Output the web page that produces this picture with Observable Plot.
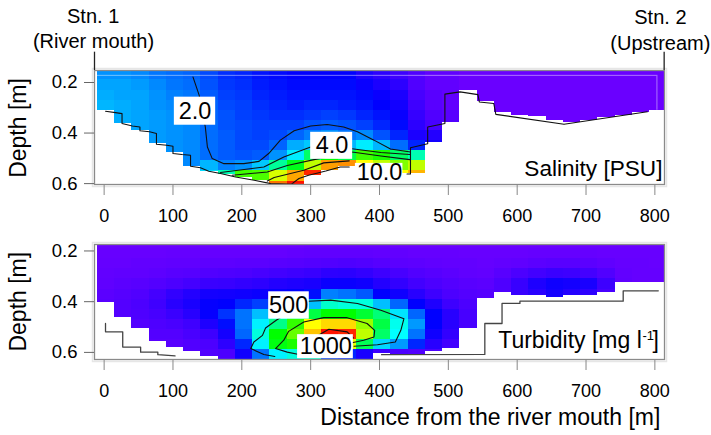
<!DOCTYPE html>
<html><head><meta charset="utf-8">
<script src="https://cdn.jsdelivr.net/npm/d3@7"></script>
<script src="https://cdn.jsdelivr.net/npm/@observablehq/plot@0.6"></script>
<style>
html,body{margin:0;padding:0;background:#fff;overflow:hidden}
#chart{position:relative;width:711px;height:435px}
#chart svg{position:absolute;left:0;overflow:visible;background:transparent}
#chart g[aria-label="cells"]{filter:blur(1px)}
</style></head><body><div id="chart"></div>
<script>
const FONT = "'Liberation Sans', Arial, sans-serif";
const colStart = -10, colWidth = 25.08, rowStart = 0.15, rowHeight = 0.04;
const distanceTicks = [0,100,200,300,400,500,600,700,800];
const depthTicks = [0.2,0.4,0.6];

// Salinity [PSU], one array per 25 m column, surface to bed
const salinity = [
[2.8,3.0,3.1,3.2],
[2.8,3.0,3.0,3.1,3.1,3.1],
[2.7,2.9,3.0,3.0,3.0,3.0,3.0],
[2.5,2.7,2.8,2.8,2.9,2.9,2.9,2.9],
[2.4,2.5,2.6,2.7,2.8,2.8,2.8,2.8,2.8],
[2.3,2.4,2.5,2.6,2.6,2.7,2.7,2.7,2.7,2.7],
[2.0,2.1,2.2,2.3,2.3,2.4,2.4,2.4,2.4,3.2,3.6],
[1.7,1.8,1.9,2.0,2.1,2.1,2.2,2.2,2.2,2.6,4.3],
[1.6,1.7,1.8,1.9,1.9,2.0,2.0,2.0,2.1,2.8,5.5],
[1.4,1.5,1.6,1.7,1.8,1.9,1.9,2.0,2.2,3.4,5.6],
[1.3,1.4,1.5,1.6,1.7,1.9,2.0,2.3,2.8,4.4,6.7,8.8],
[1.2,1.3,1.4,1.5,1.7,1.9,2.3,3.1,3.8,4.9,8.2,9.8],
[1.2,1.3,1.4,1.6,1.8,2.1,2.6,3.4,4.6,6.5,9.6],
[1.2,1.3,1.4,1.6,1.9,2.2,2.8,3.6,5.0,8.3],
[1.2,1.3,1.4,1.5,1.8,2.1,2.5,3.2,4.7,8.5],
[0.9,1.1,1.3,1.4,1.6,1.9,2.7,3.8,5.5,7.0],
[0.7,0.9,1.1,1.2,1.4,1.6,2.1,3.2,5.2,6.5,7.0],
[0.5,0.7,0.9,1.0,1.1,1.3,1.6,2.4,4.6,6.0,7.0],
[0.3,0.3,0.4,0.5,0.6,0.7,0.9,1.6,4.3,6.5,8.0],
[0.1,0.1,0.2,0.2,0.3,0.4,0.8,1.0],
[0.1,0.1,0.1,0.1,0.2,0.3],
[0,0,0],[0,0,0,0],[0,0,0,0,0],[0,0,0,0,0],[0,0,0,0,0],[0,0,0,0,0],[0,0,0,0,0,0],[0,0,0,0,0],[0,0,0,0,0],[0,0,0,0,0],[0,0,0,0,0],[0,0,0,0]
];
const salinityBed = [.310,.362,.391,.442,.475,.531,.551,.563,.576,.587,.603,.603,.567,.547,.531,.535,.545,.56,.56,.438,.358,.233,.277,.319,.329,.336,.349,.360,.349,.339,.329,.319,.310];

// Turbidity [mg/l]
const turbidity = [
[40,45,50,55,60,70,75],
[40,45,50,60,70,80,85,85],
[40,45,55,60,75,90,100,95,85],
[40,45,55,65,85,115,125,110,95,85,75],
[40,50,60,75,100,150,170,135,105,85,75],
[40,50,60,80,115,180,200,170,125,105,90,85],
[40,50,65,90,135,210,240,240,190,130,100,90],
[40,50,65,95,140,215,250,290,260,210,160,100],
[40,50,70,100,150,220,280,340,340,330,280,220],
[40,50,70,110,160,230,300,400,440,470,440,340],
[40,50,75,120,180,240,320,450,520,600,590,440],
[40,55,80,130,190,250,370,530,640,680,620,470],
[45,60,85,140,200,260,400,560,800,880,790,480],
[45,60,90,160,230,350,480,600,850,1080,800,300],
[45,60,95,165,230,340,470,600,850,1060,780,280],
[45,60,90,150,220,320,470,570,720,750,550,200],
[45,55,80,130,180,250,400,530,560,540,420,130],
[40,55,70,110,150,220,330,430,460,450,370,100],
[40,50,65,90,120,170,250,330,370,340,280,90],
[40,50,60,80,100,130,190,250,250,220,170,100],
[40,50,55,70,85,100,130,170,170,150,120],
[40,45,55,60,75,85,100,110,110],
[40,45,50,55,70,80],
[40,45,55,75,95,95],
[40,45,60,100,140,140],
[40,50,70,120,190,170],
[40,50,75,135,220,210],
[40,50,75,130,210,180],
[40,50,70,115,200,160],
[40,45,60,90,130,110],
[40,45,50,55,60],
[40,45,50,50,50],
[40,45,45,50,50]
];
const turbidityBed = [.403,.464,.505,.556,.579,.596,.618,.628,.628,.628,.628,.628,.628,.628,.628,.628,.605,.608,.608,.595,.583,.504,.387,.364,.374,.374,.385,.374,.374,.365,.325,.325,.325];

const salinityColorDomain = [0,1.2,4,5,7,8.5,10];
const turbidityColorDomain = [40,250,450,600,800,950,1100];
const rainbow = ["#6a00ff","#0000ff","#00ffff","#00ff00","#ffff00","#ff9000","#ff0000"];

// Bed lines and isolines: [distance m, depth m]
const salinityBedLine1 = [[2,.314],[16.5,.319],[26,.323],[26,.362],[41,.372],[52,.376],[52,.391],[66,.395],[76,.402],[76,.444],[91,.448],[100,.452],[100,.481],[113,.485],[125.5,.488],[125.5,.531],[140,.537],[152,.551],[169,.560],[191,.574],[218,.587],[242,.600],[276,.603]];
const salinityBedLine2 = [[440,.562],[445,.562],[445,.458],[470,.442],[470,.376],[495,.362],[495,.246],[517,.237],[543,.248],[545,.277],[566,.283],[569,.326],[668,.365],[789,.316]];
const iso20 = [[129,.178],[138,.250],[147,.376],[150,.455],[157,.501],[174,.521],[203,.521],[225,.512],[239,.481],[256,.428],[276,.391],[300,.372],[324,.366],[348,.376],[368,.395],[392,.428],[416,.463],[445,.475]];
const iso40 = [[169,.556],[232,.534],[261,.495],[300,.455],[360,.462],[402,.477],[444,.485]];
const iso60 = [[186,.567],[237,.554],[266,.528],[305,.505],[360,.475],[402,.491],[444,.505]];
const iso80 = [[237,.590],[247,.576],[290,.547],[319,.518],[356,.510]];
const iso100 = [[273,.600],[283,.580],[297,.567],[322,.550],[343,.534],[356,.534]];

const turbidityBedLine1 = [[2,.486],[2,.519],[27,.519],[27,.579],[53,.579],[53,.599],[78,.599],[78,.609],[103,.614]];
const turbidityBedLine2 = [[403,.609],[553,.608],[553,.486],[578,.486],[578,.407],[604,.407],[604,.398],[754,.398],[754,.357],[805,.357]];
const iso500 = [[248,.616],[232,.608],[213,.585],[217.5,.559],[230,.533],[234.5,.504],[251,.471],[297,.398],[329,.394],[368,.407],[402,.434],[435.5,.467],[431,.513],[423,.559],[397,.570],[363,.576]];
const iso750 = [[283,.608],[266,.599],[249,.585],[261,.552],[268,.517],[290,.480],[319,.463],[353,.463],[382,.486],[393,.513],[392,.539],[377,.552],[360,.562]];
const iso1000 = [[310.5,.533],[326.5,.509],[353,.519],[362,.543]];

const salinityLabels = [
  {t:"2.0",x:132,y:.314,x1:102,x2:162,y1:.258,y2:.369},
  {t:"4.0",x:331,y:.448,x1:300,x2:361,y1:.397,y2:.504},
  {t:"10.0",x:400,y:.556,x1:365,x2:434,y1:.52,y2:.603}
];
const turbidityLabels = [
  {t:"500",x:268,y:.414,x1:239,x2:298,y1:.361,y2:.469},
  {t:"1000",x:322,y:.576,x1:281,x2:362,y1:.530,y2:.625}
];

function cells(columns, bed){
  return columns.flatMap((col,k)=>col.map((v,r)=>({
    x1:colStart+k*colWidth, x2:colStart+(k+1)*colWidth,
    y1:rowStart+r*rowHeight, y2:Math.min(rowStart+(r+1)*rowHeight, bed[k]), v
  }))).filter(d=>d.y2>d.y1);
}
const lineOf = (pts,stroke="#111",w=1.1)=>Plot.line(pts,{x:d=>d[0],y:d=>d[1],stroke,strokeWidth:w,curve:"linear"});
const labelMarks = L=>[
  Plot.rect(L,{x1:"x1",x2:"x2",y1:"y1",y2:"y2",fill:"white"}),
  Plot.text(L,{x:"x",y:"y",text:"t",fontSize:23.5,fill:"black"})
];
function axes(){
  return [
    Plot.axisX({ticks:distanceTicks,tickSize:11,tickPadding:14,fontSize:18,label:null,tickFormat:"d",stroke:"#888",fill:"black"}),
    Plot.axisY({ticks:depthTicks,tickSize:10,tickPadding:7,fontSize:18.5,label:null,tickFormat:".1f",stroke:"#666",fill:"black"})
  ];
}
const frames = ()=>[
  Plot.frame({inset:-2,stroke:"#e6e6e6",strokeWidth:1.5}),
  Plot.frame({stroke:"#8a8a8a",strokeWidth:1.3})
];

const common = {width:711,marginLeft:94,marginRight:47,style:{fontFamily:FONT,background:"transparent"},
  x:{domain:[-14,814]}};

const topPlot = Plot.plot({...common,height:230,marginTop:70,marginBottom:46,
  y:{domain:[.6035,.1525]},
  color:{type:"linear",domain:salinityColorDomain,range:rainbow,interpolate:"rgb"},
  marks:[
    Plot.rect(cells(salinity,salinityBed),{x1:"x1",x2:"x2",y1:"y1",y2:"y2",fill:"v",shapeRendering:"crispEdges",clip:true,ariaLabel:"cells"}),
    Plot.ruleY([.1717],{x1:-10,x2:803,stroke:"white",strokeOpacity:.45,strokeWidth:1}),
    Plot.ruleX([803],{y1:.1717,y2:.31,stroke:"white",strokeOpacity:.45,strokeWidth:1}),
    lineOf(salinityBedLine1), lineOf(salinityBedLine2),
    lineOf(iso20),lineOf(iso40),lineOf(iso60),lineOf(iso80),lineOf(iso100),
    ...labelMarks(salinityLabels),
    Plot.text(["Salinity [PSU]"],{x:[811],y:[.54],textAnchor:"end",fontSize:22.6,fill:"black"}),
    ...frames(),
    ...axes(),
    Plot.ruleX([-14],{y1:.08,y2:.1525,stroke:"#222",strokeWidth:1.3}),
    Plot.ruleX([813.5],{y1:.08,y2:.1525,stroke:"#222",strokeWidth:1.3}),
    Plot.text(["Stn. 1"],{x:[-16],y:[-.0626],fontSize:20,fill:"black"}),
    Plot.text(["(River mouth)"],{x:[-15.5],y:[.0364],fontSize:20,fill:"black"}),
    Plot.text(["Stn. 2"],{x:[808],y:[-.0586],fontSize:20,fill:"black"}),
    Plot.text(["(Upstream)"],{x:[808],y:[.0444],fontSize:20,fill:"black"}),
    Plot.text(["Depth [m]"],{x:[-124],y:[.38],rotate:-90,fontSize:23,fill:"black"})
  ]});
topPlot.style.top="0px";

const bottomPlot = Plot.plot({...common,height:205,marginTop:14,marginBottom:76,
  y:{domain:[.628,.1745]},
  color:{type:"linear",domain:turbidityColorDomain,range:rainbow,interpolate:"rgb"},
  marks:[
    Plot.rect(cells(turbidity,turbidityBed),{x1:"x1",x2:"x2",y1:"y1",y2:"y2",fill:"v",shapeRendering:"crispEdges",clip:true,ariaLabel:"cells"}),
    lineOf(turbidityBedLine1,"#444",1.3), lineOf(turbidityBedLine2,"#444",1.3),
    lineOf(iso500),lineOf(iso750),lineOf(iso1000),
    ...labelMarks(turbidityLabels),
    Plot.text(["Turbidity [mg l"],{x:[781],y:[.553],textAnchor:"end",fontSize:23,fill:"black"}),
    Plot.text(["-1"],{x:[782],y:[.535],textAnchor:"start",fontSize:13,fill:"black"}),
    Plot.text(["]"],{x:[806],y:[.553],textAnchor:"end",fontSize:23,fill:"black"}),
    ...frames(),
    ...axes(),
    Plot.text(["Depth [m]"],{x:[-124],y:[.40],rotate:-90,fontSize:23,fill:"black"}),
    Plot.text(["Distance from the river mouth [m]"],{x:[561],y:[.857],fontSize:23,fill:"black"})
  ]});
bottomPlot.style.top="230px";

document.getElementById("chart").append(topPlot,bottomPlot);
</script></body></html>
